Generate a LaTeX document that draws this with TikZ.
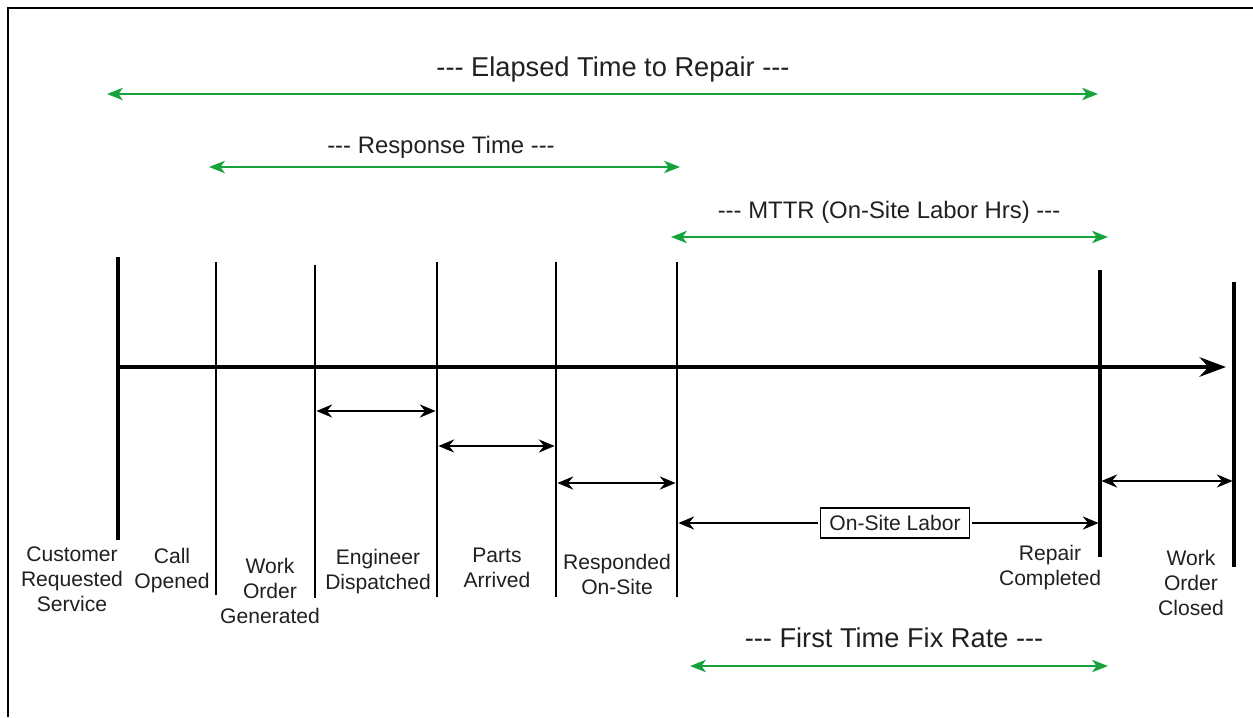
\documentclass[tikz,border=0pt]{standalone}
\usepackage{fontspec}
\setmainfont{Liberation Sans}
\usetikzlibrary{arrows.meta}
\definecolor{fixgreen}{RGB}{22,163,60}
\definecolor{inkgray}{RGB}{35,31,32}

\begin{document}
\begin{tikzpicture}[x=0.02cm,y=-0.02cm,
  evtext/.style={text=inkgray,font=\fontsize{12}{14.2}\selectfont,align=center,inner sep=0pt},
  spantext/.style={text=inkgray,font=\fontsize{13.6}{15}\selectfont,inner sep=0pt},
  bigtext/.style={text=inkgray,font=\fontsize{15.5}{17}\selectfont,inner sep=0pt},
  thinline/.style={line width=1.4pt},
  thickline/.style={line width=2.6pt},
  gap/.style={line width=1.1pt,{Stealth[length=9pt,width=7.5pt,inset=3pt]}-{Stealth[length=9pt,width=7.5pt,inset=3pt]},shorten <=0.8pt,shorten >=0.8pt},
  span/.style={fixgreen,line width=1.3pt,{Stealth[length=9pt,width=7pt,inset=2.5pt]}-{Stealth[length=9pt,width=7pt,inset=2.5pt]}}]

\useasboundingbox (0,0) rectangle (1253,717);

% frame
\draw[line width=1.2pt] (8,717) -- (8,8) -- (1253,8);

% event lines
\foreach \n/\x/\t/\b in {cr/118/257/540,co/216/262/595,wo/315/265/598,ed/437/262/597,pa/556/262/597,ro/677/262/597,rc/1100/270/557,wc/1234/282/567}{
  \coordinate (\n t) at (\x,\t);
  \coordinate (\n b) at (\x,\b);
}
\draw[thickline] (crt) -- (crb);
\draw[thinline] (cot) -- (cob);
\draw[thinline] (wot) -- (wob);
\draw[thinline] (edt) -- (edb);
\draw[thinline] (pat) -- (pab);
\draw[thinline] (rot) -- (rob);
\draw[thickline] (rct) -- (rcb);
\draw[thickline] (wct) -- (wcb);

% time axis
\coordinate (axisend) at (1226,367);
\draw[line width=2.8pt,-{Stealth[length=15pt,width=11pt,inset=5pt]}] (crt |- axisend) -- (axisend);

% intervals
\draw[gap] (wot |- 0,411) -- (edt |- 0,411);
\draw[gap] (edt |- 0,446) -- (pat |- 0,446);
\draw[gap] (pat |- 0,483) -- (rot |- 0,483);
\draw[gap] (rct |- 0,481) -- (wct |- 0,481);

\node[draw,line width=1.1pt,inner sep=2pt,text=inkgray,font=\fontsize{12}{14}\selectfont,minimum width=2.98cm,minimum height=0.6cm] (labor) at (895,523) {On-Site Labor};
\draw[gap,{Stealth[length=9pt,width=7.5pt,inset=3pt]}-] (rot |- labor.west) -- (labor.west);
\draw[gap,-{Stealth[length=9pt,width=7.5pt,inset=3pt]}] (labor.east) -- (rct |- labor.east);

% event labels
\node[evtext] (crl) at (72,579) {Customer\\Requested\\Service};
\node[evtext] (col) at (172,571) {Call\\Opened};
\node[evtext] (wol) at (270,591) {Work\\Order\\Generated};
\node[evtext] (edl) at (378,572) {Engineer\\Dispatched};
\node[evtext] (pal) at (497,568) {Parts\\Arrived};
\node[evtext] (rol) at (617,574) {Responded\\On-Site};
\node[evtext] (rcl) at (1050,568) {Repair\\Completed};
\node[evtext] (wcl) at (1191,583) {Work\\Order\\Closed};

% spans
\node[bigtext] (elapsed) at (613,69) {-{}-{}- Elapsed Time to Repair -{}-{}-};
\coordinate (el1) at (107,94);
\coordinate (el2) at (1098,94);
\draw[span] (el1) -- (el2);

\node[spantext] (response) at (441,147) {-{}-{}- Response Time -{}-{}-};
\coordinate (rs1) at (209,167);
\coordinate (rs2) at (680,167);
\draw[span] (rs1) -- (rs2);

\node[spantext] (mttr) at (889,212) {-{}-{}- MTTR (On-Site Labor Hrs) -{}-{}-};
\coordinate (mt1) at (671,237);
\coordinate (mt2) at (1108,237);
\draw[span] (mt1) -- (mt2);

\node[bigtext] (ftfr) at (894,638) {-{}-{}- First Time Fix Rate -{}-{}-};
\coordinate (ff1) at (690,666);
\coordinate (ff2) at (1108,666);
\draw[span] (ff1) -- (ff2);

\end{tikzpicture}
\end{document}
